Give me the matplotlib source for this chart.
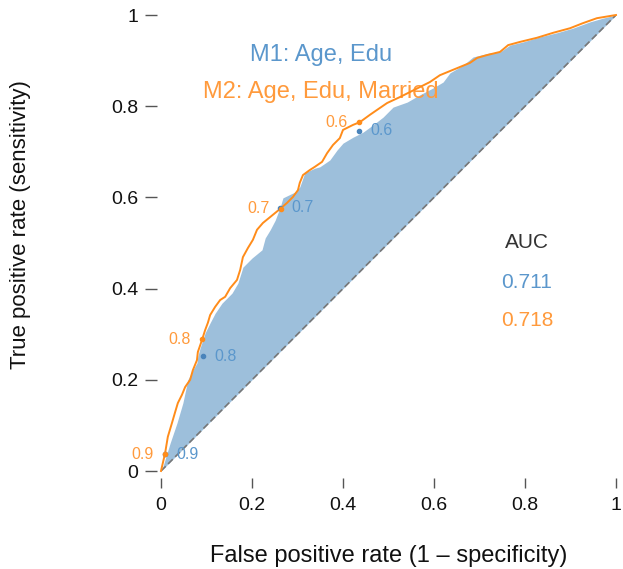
import matplotlib
matplotlib.use("Agg")
import matplotlib.pyplot as plt

plt.rcParams['font.family'] = ['Liberation Sans', 'DejaVu Sans']

# ROC curve for M1 (Age, Edu)
fpr1 = [0, 0.004, 0.020, 0.035, 0.048, 0.059, 0.070, 0.079, 0.081, 0.086,
        0.097, 0.108, 0.119, 0.134, 0.156, 0.169, 0.180, 0.200, 0.222, 0.229,
        0.240, 0.251, 0.262, 0.268, 0.295, 0.305, 0.316, 0.338, 0.349, 0.371,
        0.387, 0.400, 0.422, 0.444, 0.466, 0.488, 0.510, 0.541, 0.569, 0.598,
        0.620, 0.635, 0.664, 0.686, 0.723, 0.745, 0.767, 0.796, 0.833, 0.870,
        0.905, 0.943, 0.971, 1]
tpr1 = [0, 0.009, 0.061, 0.105, 0.149, 0.200, 0.221, 0.237, 0.252, 0.270,
        0.303, 0.325, 0.346, 0.368, 0.390, 0.412, 0.447, 0.467, 0.485, 0.511,
        0.529, 0.550, 0.579, 0.599, 0.612, 0.623, 0.654, 0.664, 0.667, 0.682,
        0.704, 0.719, 0.732, 0.743, 0.759, 0.776, 0.798, 0.809, 0.825, 0.840,
        0.853, 0.873, 0.890, 0.908, 0.917, 0.919, 0.934, 0.941, 0.952, 0.961,
        0.971, 0.985, 0.993, 1]

# ROC curve for M2 (Age, Edu, Married)
fpr2 = [0, 0.009, 0.015, 0.024, 0.031, 0.037, 0.046, 0.053, 0.064, 0.070,
        0.079, 0.081, 0.090, 0.097, 0.103, 0.108, 0.119, 0.130, 0.141, 0.152,
        0.167, 0.174, 0.180, 0.191, 0.202, 0.211, 0.224, 0.240, 0.262, 0.277,
        0.290, 0.301, 0.305, 0.312, 0.327, 0.338, 0.354, 0.365, 0.378, 0.393,
        0.400, 0.422, 0.437, 0.459, 0.475, 0.497, 0.525, 0.547, 0.569, 0.591,
        0.613, 0.635, 0.657, 0.679, 0.695, 0.716, 0.745, 0.763, 0.789, 0.826,
        0.862, 0.899, 0.927, 0.958, 1]
tpr2 = [0, 0.039, 0.075, 0.105, 0.129, 0.149, 0.167, 0.184, 0.200, 0.221,
        0.243, 0.261, 0.287, 0.309, 0.325, 0.342, 0.360, 0.375, 0.382, 0.401,
        0.419, 0.441, 0.469, 0.489, 0.507, 0.529, 0.544, 0.557, 0.575, 0.588,
        0.601, 0.616, 0.632, 0.649, 0.660, 0.667, 0.678, 0.697, 0.715, 0.730,
        0.748, 0.759, 0.765, 0.781, 0.792, 0.807, 0.820, 0.831, 0.842, 0.853,
        0.868, 0.877, 0.886, 0.895, 0.906, 0.912, 0.919, 0.934, 0.941, 0.950,
        0.961, 0.971, 0.982, 0.993, 1]

# threshold points
thr_labels = ['0.9', '0.8', '0.7', '0.6']
thr1_x = [0.009, 0.092, 0.262, 0.435]
thr1_y = [0.037, 0.252, 0.577, 0.746]
thr2_x = [0.009, 0.090, 0.263, 0.435]
thr2_y = [0.037, 0.289, 0.575, 0.765]

auc1 = 0.711
auc2 = 0.718
ticks = [0, 0.2, 0.4, 0.6, 0.8, 1]
tick_labels = ['0', '0.2', '0.4', '0.6', '0.8', '1']

blue_fill = '#9dbfdb'
blue_txt = '#5b97cc'
blue_dot = '#4a84bb'
orange = '#ff8c1a'
orange_txt = '#ff9a3c'

fig = plt.figure(figsize=(6.23, 5.69), dpi=100)
ax = fig.add_axes([161/623, 98/569, 455/623, 456/569])
ax.set_xlim(0, 1)
ax.set_ylim(0, 1)

ax.fill_between(fpr1, tpr1, fpr1, color=blue_fill, lw=0, zorder=1)
ax.plot([0, 1], [0, 1], ls=(0, (4, 2)), color='#777777', lw=1.2, zorder=2)
ax.plot(fpr2, tpr2, color=orange, lw=1.4, zorder=4, clip_on=False)

ax.scatter(thr1_x, thr1_y, s=9, color=blue_dot, zorder=5, clip_on=False)
ax.scatter(thr2_x, thr2_y, s=9, color=orange, zorder=5, clip_on=False)
for lab, x, y in zip(thr_labels, thr1_x, thr1_y):
    ax.annotate(lab, (x, y), xytext=(8, 0), textcoords='offset points',
                ha='left', va='center', color=blue_txt, fontsize=11.5, zorder=6)
for lab, x, y in zip(thr_labels, thr2_x, thr2_y):
    ax.annotate(lab, (x, y), xytext=(-8, 0), textcoords='offset points',
                ha='right', va='center', color=orange_txt, fontsize=11.5, zorder=6)

# model names
ax.text(0.352, 0.913, 'M1: Age, Edu', color=blue_txt, fontsize=17,
        ha='center', va='center', zorder=3)
ax.text(0.352, 0.831, 'M2: Age, Edu, Married', color=orange_txt, fontsize=17,
        ha='center', va='center', zorder=3)

# AUC block
ax.text(0.804, 0.500, 'AUC', color='#333333', fontsize=15, ha='center', va='center')
ax.text(0.804, 0.413, f'{auc1:.3f}', color=blue_txt, fontsize=15, ha='center', va='center')
ax.text(0.804, 0.331, f'{auc2:.3f}', color=orange_txt, fontsize=15, ha='center', va='center')

for s in ax.spines.values():
    s.set_color('none')
ax.spines['bottom'].set_position(('outward', 5))
ax.spines['left'].set_position(('outward', 3))
ax.set_xticks(ticks)
ax.set_xticklabels(tick_labels)
ax.set_yticks(ticks)
ax.set_yticklabels(tick_labels)
ax.tick_params(axis='x', length=7, width=1, color='#555555', pad=7,
               labelsize=14, labelcolor='#111111')
ax.tick_params(axis='y', length=8.5, width=1, color='#555555', pad=5,
               labelsize=14, labelcolor='#111111')

fig.text(389/623, 1 - 556/569, 'False positive rate (1 \u2013 specificity)',
         fontsize=17, ha='center', va='center', color='#111111')
fig.text(21/623, 1 - 225/569, 'True positive rate (sensitivity)',
         fontsize=16, ha='center', va='center', rotation=90, color='#111111')

fig.savefig('out.png', dpi=100)
